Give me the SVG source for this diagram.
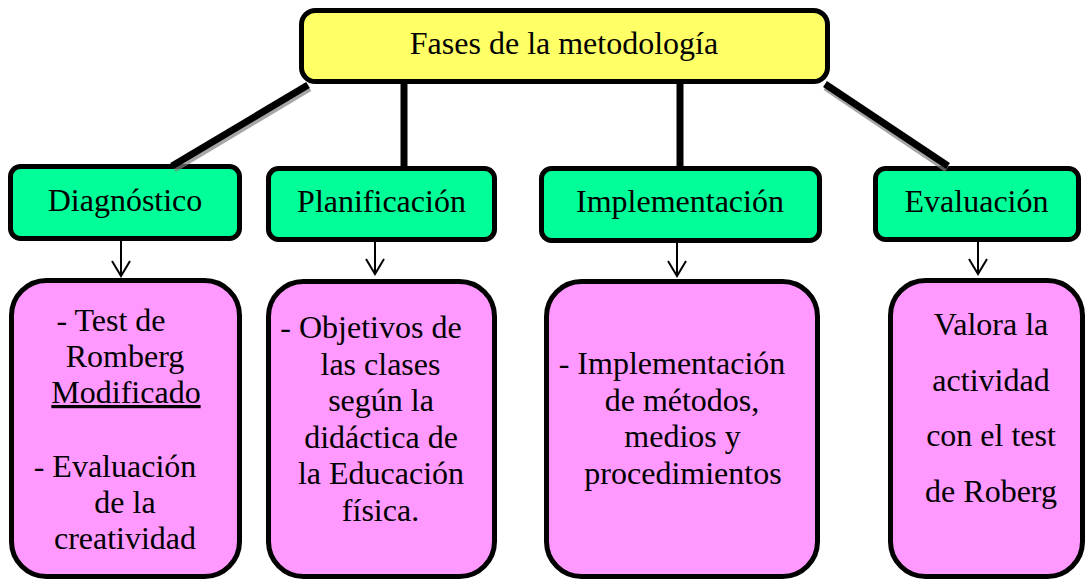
<svg xmlns="http://www.w3.org/2000/svg" width="1087" height="581" viewBox="0 0 1087 581">
<defs>
<style>
.top{fill:#FFFF66;stroke:#000;stroke-width:5}
.phase{fill:#00FF99;stroke:#000;stroke-width:5}
.detail{fill:#FF99FF;stroke:#000;stroke-width:5}
.thick{stroke:#000;stroke-width:7;fill:none}
.shadow{stroke:#808080;stroke-opacity:0.7;stroke-width:7;fill:none}
.thin{stroke:#000;stroke-width:2;fill:none}
</style>
<marker id="arr" viewBox="0 0 20 20" refX="18" refY="10" markerWidth="20" markerHeight="20" markerUnits="userSpaceOnUse" orient="auto">
<path d="M3,1 L18,10 L3,19" fill="none" stroke="#000" stroke-width="2"/>
</marker>
</defs>
<rect width="1087" height="581" fill="#fff"/>
<g font-family="'Liberation Serif', 'Times New Roman', serif" font-size="32" text-anchor="middle" fill="#000">

<g id="node-top">
<rect class="top" x="301.5" y="10.5" width="526" height="71" rx="14"/>
<text x="564" y="54">Fases de la metodología</text>
</g>

<g id="node-diagnostico">
<rect class="phase" x="10.5" y="166.5" width="229" height="72" rx="10"/>
<text x="125" y="211">Diagnóstico</text>
</g>
<g id="node-planificacion">
<rect class="phase" x="268.5" y="168.5" width="226" height="71" rx="10"/>
<text x="381.5" y="212">Planificación</text>
</g>
<g id="node-implementacion">
<rect class="phase" x="541.5" y="168.5" width="278" height="72" rx="10"/>
<text x="680" y="212">Implementación</text>
</g>
<g id="node-evaluacion">
<rect class="phase" x="875.5" y="168.5" width="203" height="71" rx="10"/>
<text x="976.5" y="212">Evaluación</text>
</g>

<g id="detail-diagnostico">
<rect class="detail" x="11.5" y="280.5" width="228" height="296" rx="35"/>
<text x="111" y="331">- Test de</text>
<text x="125" y="367">Romberg</text>
<text x="126" y="403" text-decoration="underline">Modificado</text>
<text x="115" y="477">- Evaluación</text>
<text x="125" y="513">de la</text>
<text x="125" y="549">creatividad</text>
</g>
<g id="detail-planificacion">
<rect class="detail" x="268.5" y="281.5" width="226" height="295" rx="35"/>
<text x="371" y="338">- Objetivos de</text>
<text x="380.5" y="374.5">las clases</text>
<text x="381" y="411">según la</text>
<text x="381" y="447.5">didáctica de</text>
<text x="381" y="484">la Educación</text>
<text x="380.5" y="520.5">física.</text>
</g>
<g id="detail-implementacion">
<rect class="detail" x="546.5" y="281.5" width="271" height="295" rx="35"/>
<text x="672" y="374">- Implementación</text>
<text x="682" y="410.5">de métodos,</text>
<text x="682.5" y="447">medios y</text>
<text x="683" y="483.5">procedimientos</text>
</g>
<g id="detail-evaluacion">
<rect class="detail" x="890.5" y="280.5" width="192" height="296" rx="35"/>
<text x="991" y="335">Valora la</text>
<text x="991" y="390.5">actividad</text>
<text x="991" y="446">con el test</text>
<text x="991" y="502">de Roberg</text>
</g>
</g>

<g id="connectors">
<line class="shadow" x1="309.5" y1="88" x2="174" y2="169"/>
<line class="shadow" x1="825.5" y1="87" x2="947" y2="169"/>
<line class="thick" x1="308" y1="85" x2="172" y2="166"/>
<line class="thick" x1="404" y1="83" x2="404" y2="168"/>
<line class="thick" x1="680" y1="83" x2="680" y2="168"/>
<line class="thick" x1="825" y1="84" x2="948" y2="166"/>
<line class="thin" x1="121" y1="241" x2="121" y2="276" marker-end="url(#arr)"/>
<line class="thin" x1="375" y1="242" x2="375" y2="274" marker-end="url(#arr)"/>
<line class="thin" x1="677" y1="243" x2="677" y2="276" marker-end="url(#arr)"/>
<line class="thin" x1="978" y1="242" x2="978" y2="274" marker-end="url(#arr)"/>
</g>
</svg>
